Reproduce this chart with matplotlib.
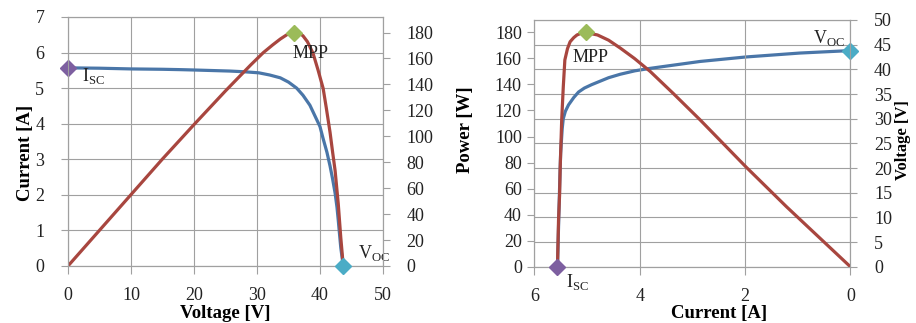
import matplotlib
matplotlib.use("Agg")
import matplotlib.pyplot as plt

# -------------------------------------------------------------------
# DATA
# -------------------------------------------------------------------
# Left panel: I-V and P-V curves vs voltage
iv_voltage = [0, 5, 10, 15, 17.8, 20, 25.7, 28, 30.3, 32, 33.7, 35, 36.3, 37.3,
              38.4, 39.2, 40.0, 40.5, 41.1, 41.6, 42.0, 42.4, 42.7, 42.9, 43.1,
              43.3, 43.5, 43.7]
iv_current = [5.57, 5.56, 5.54, 5.53, 5.52, 5.51, 5.48, 5.46, 5.43, 5.37, 5.29,
              5.17, 5.00, 4.80, 4.52, 4.22, 3.92, 3.58, 3.20, 2.81, 2.45, 2.05,
              1.65, 1.29, 0.90, 0.52, 0.25, 0.0]

pv_voltage = [0, 5, 10, 15, 20, 25, 27, 29, 31, 32.5, 33.7, 34.8, 35.8, 36.6,
              37.3, 38.0, 38.9, 39.7, 40.5, 41.0, 41.6, 42.0, 42.4, 42.9, 43.3,
              43.7]
pv_power = [0, 27.5, 55, 82.5, 109, 135, 145, 155, 164.5, 170.5, 175, 178.5,
            180.5, 180, 177.5, 173, 164, 151, 137, 122, 103, 88, 73.6, 48, 22, 0]

# Right panel: P-I and V-I curves vs current
pi_current = [5.56, 5.55, 5.54, 5.52, 5.51, 5.48, 5.45, 5.42, 5.37, 5.32, 5.25,
              5.19, 5.10, 5.02, 4.80, 4.59, 4.37, 4.10, 3.80, 3.36, 2.85, 1.99,
              1.21, 0.0]
pi_power = [0, 18, 35.9, 55, 74, 112.7, 138, 158.8, 167.5, 172.8, 176, 178,
            179.5, 179.8, 178, 174, 168, 160, 150, 133, 112.7, 77, 46, 0]

vi_current = [5.56, 5.54, 5.52, 5.50, 5.47, 5.45, 5.41, 5.35, 5.25, 5.16, 5.05,
              4.91, 4.75, 4.59, 4.37, 4.09, 3.80, 2.85, 1.99, 0.96, 0.0]
vi_voltage = [0, 8, 16, 23, 28, 30, 31.5, 32.8, 34.3, 35.4, 36.2, 36.9, 37.6,
              38.3, 39.0, 39.7, 40.2, 41.6, 42.5, 43.3, 43.8]

# Special points
isc_current = 5.56
mpp_voltage, mpp_current, mpp_power = 35.9, 5.02, 180
voc_voltage = 43.7

# -------------------------------------------------------------------
# STYLE
# -------------------------------------------------------------------
plt.rcParams["font.family"] = ["Liberation Serif", "DejaVu Serif"]
plt.rcParams["mathtext.fontset"] = "custom"
plt.rcParams["mathtext.rm"] = "Liberation Serif"
plt.rcParams["font.size"] = 13

BLUE = "#4a76a8"
RED = "#a8463f"
PURPLE = "#7d5fa0"
GREEN = "#9bbb59"
LBLUE = "#4bacc6"
GRID = "#a0a0a0"
TXT = "#222222"
LW = 2.3


def style_axis(ax):
    for sp in ax.spines.values():
        sp.set_color(GRID)
        sp.set_linewidth(0.8)
    ax.tick_params(colors=GRID, labelcolor=TXT, width=0.8, labelsize=13)


fig = plt.figure(figsize=(9.16, 3.23), dpi=100)

# -------------------------------------------------------------------
# LEFT PANEL: current / power vs voltage
# -------------------------------------------------------------------
ax1 = fig.add_axes([0.0742, 0.1765, 0.3439, 0.7709])
ax1b = ax1.twinx()

ax1.plot(iv_voltage, iv_current, color=BLUE, lw=LW, solid_capstyle="round",
         solid_joinstyle="round")
ax1b.plot(pv_voltage, pv_power, color=RED, lw=LW, solid_capstyle="round",
          solid_joinstyle="round")

ax1.plot([0], [isc_current], "D", color=PURPLE, ms=8, clip_on=False, zorder=5)
ax1b.plot([mpp_voltage], [mpp_power], "D", color=GREEN, ms=8, clip_on=False, zorder=5)
ax1b.plot([voc_voltage], [0], "D", color=LBLUE, ms=8, clip_on=False, zorder=5)

ax1.set_xlim(0, 50)
ax1.set_ylim(0, 7)
ax1b.set_ylim(0, 192)
ax1.set_xticks(range(0, 51, 10))
ax1.set_yticks(range(0, 8))
ax1b.set_yticks(range(0, 181, 20))
ax1.grid(True, color=GRID, lw=0.8)
style_axis(ax1)
style_axis(ax1b)
ax1.tick_params(axis="x", length=6, pad=9)
ax1.tick_params(axis="y", length=5, pad=12)
ax1b.tick_params(axis="y", length=5, pad=12)

ax1.set_xlabel("Voltage [V]", fontweight="bold", fontsize=13.5, va="center")
ax1.xaxis.set_label_coords(0.5, -0.19)
ax1.set_ylabel("Current [A]", fontweight="bold", fontsize=13.5, va="center")
ax1.yaxis.set_label_coords(-0.135, 0.454)

ax1b.text(35.7, 164, "MPP", ha="left", va="center", color=TXT, fontsize=13)
ax1.text(2.2, 5.33, r"I$_{\rm SC}$", ha="left", va="center", color=TXT, fontsize=13)
ax1.text(46.0, 0.36, r"V$_{\rm OC}$", ha="left", va="center", color=TXT, fontsize=13)

# -------------------------------------------------------------------
# RIGHT PANEL: power / voltage vs current
# -------------------------------------------------------------------
ax2 = fig.add_axes([0.5833, 0.1743, 0.3450, 0.7638])
ax2b = ax2.twinx()
ax2.set_zorder(ax2b.get_zorder() + 1)
ax2.patch.set_visible(False)

ax2b.plot(vi_current, vi_voltage, color=BLUE, lw=LW, solid_capstyle="round",
          solid_joinstyle="round")
ax2.plot(pi_current, pi_power, color=RED, lw=LW, solid_capstyle="round",
         solid_joinstyle="round")

ax2.plot([isc_current], [0], "D", color=PURPLE, ms=8, clip_on=False, zorder=5)
ax2.plot([mpp_current], [mpp_power], "D", color=GREEN, ms=8, clip_on=False, zorder=5)
ax2b.plot([0], [voc_voltage], "D", color=LBLUE, ms=8, clip_on=False, zorder=5)

ax2.set_xlim(6, 0)
ax2.set_ylim(0, 189.5)
ax2b.set_ylim(0, 50)
ax2.set_xticks([6, 4, 2, 0])
ax2.set_yticks(range(0, 181, 20))
ax2b.set_yticks(range(0, 51, 5))
ax2.grid(True, axis="x", color=GRID, lw=0.8)
ax2b.grid(True, axis="y", color=GRID, lw=0.8)
style_axis(ax2)
style_axis(ax2b)
ax2.tick_params(axis="x", length=6, pad=9)
ax2.tick_params(axis="y", length=5, pad=4)
ax2b.tick_params(axis="y", length=5, pad=12)

ax2.set_xlabel("Current [A]", fontweight="bold", fontsize=13.5, va="center")
ax2.xaxis.set_label_coords(0.585, -0.19)
ax2.set_ylabel("Power [W]", fontweight="bold", fontsize=13.5, va="center")
ax2.yaxis.set_label_coords(-0.218, 0.555)
ax2b.set_ylabel("Voltage [V]", fontweight="bold", fontsize=12, va="center")
ax2b.yaxis.set_label_coords(1.168, 0.514)

ax2.text(5.27, 161, "MPP", ha="left", va="center", color=TXT, fontsize=13)
ax2.text(5.40, -11.5, r"I$_{\rm SC}$", ha="left", va="center", color=TXT, fontsize=13)
ax2.text(0.71, 175.4, r"V$_{\rm OC}$", ha="left", va="center", color=TXT, fontsize=13)

fig.savefig("out.png", dpi=100)
